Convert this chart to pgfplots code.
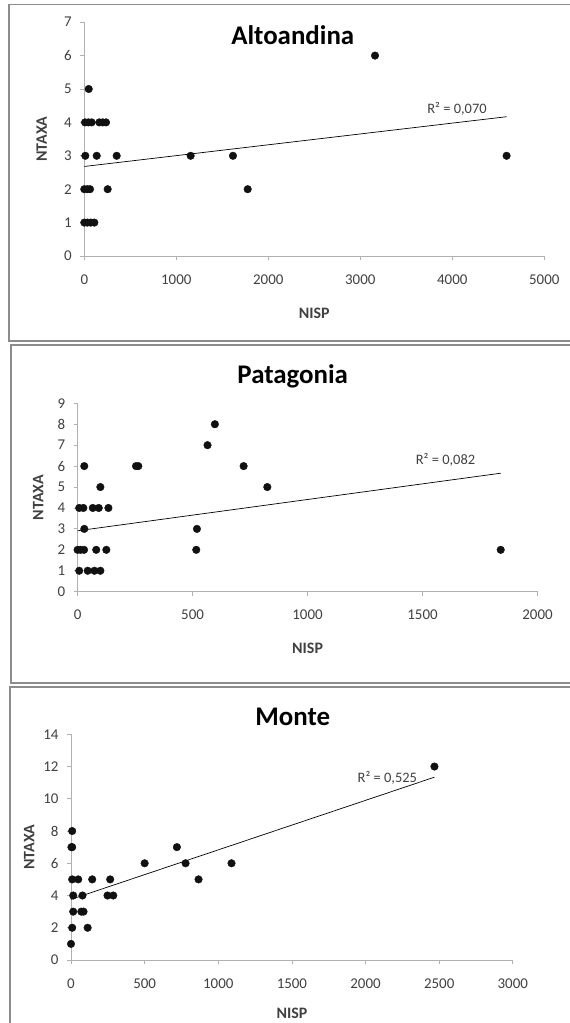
\documentclass[border=0pt]{standalone}
\usepackage{pgfplots}
\pgfplotsset{compat=1.18}
\usepackage{fontspec}
\setmainfont{Carlito}
\definecolor{axgray}{HTML}{B0B0B0}
\definecolor{frgray}{HTML}{8C8C8C}
\definecolor{txgray}{HTML}{404040}
\definecolor{dot}{HTML}{111111}
\pgfplotsset{
  panel/.style={
    scale only axis, anchor=origin, clip=false,
    axis x line=bottom, axis y line=left,
    axis line style={-, draw=axgray, line width=0.8bp},
    tick align=outside, major tick length=4bp,
    tick style={draw=axgray, line width=0.8bp},
    /pgf/number format/assume math mode=true,
    /pgf/number format/set thousands separator={},
    ticklabel style={font=\fontsize{15}{17}\selectfont, text=txgray},
    xticklabel style={yshift=-11bp},
    yticklabel style={xshift=-5bp},
    ymin=0,
  },
  dots/.style={only marks, mark=*, mark size=3.8bp, mark options={fill=dot, draw=dot}},
  trend/.style={no marks, draw=black, line width=0.7bp},
}
\begin{document}
\begin{tikzpicture}
\path (0bp,0bp) rectangle (570bp,1023bp);
\draw[overlay, frgray, line width=1.3bp] (9bp,682bp) rectangle (576bp,1018.5bp);
\draw[overlay, frgray, line width=1.3bp] (11bp,340bp) rectangle (576bp,678bp);
\draw[overlay, frgray, line width=1.3bp] (10bp,-5bp) rectangle (576bp,336bp);

% Altoandina
\begin{axis}[panel, at={(84.3bp,767bp)}, width=460bp, height=233.8bp,
  xmin=0, xmax=5000, ymax=7, xtick={0,1000,...,5000}, ytick={0,1,...,7}]
\addplot[trend] coordinates {(0,2.68) (4590,4.17)};
\addplot[dots] coordinates {
(3160,6) (4590,3) (48,5)
(8,4) (44,4) (80,4) (163,4) (200,4) (236,4)
(11,3) (135,3) (352,3) (1156,3) (1616,3)
(0,2) (33,2) (62,2) (254,2) (1776,2)
(0,1) (33,1) (70,1) (109,1)};
\node[font=\fontsize{14.5}{16}\selectfont, text=txgray] at (axis cs:4051,4.40) {R² = 0,070};
\end{axis}
\node[font=\fontsize{27}{30}\selectfont\bfseries] at (292.7bp,988bp) {Altoandina};
\node[font=\fontsize{16}{19}\selectfont\bfseries, text=txgray] at (314.3bp,710bp) {NISP};
\node[font=\fontsize{16}{19}\selectfont\bfseries, text=txgray, rotate=90] at (41.8bp,884bp) {NTAXA};

% Patagonia
\begin{axis}[panel, at={(77.6bp,431.3bp)}, width=459.9bp, height=188.4bp,
  xmin=0, xmax=2000, ymax=9, xtick={0,500,...,2000}, ytick={0,1,...,9}]
\addplot[trend] coordinates {(0,2.91) (1840,5.66)};
\addplot[dots] coordinates {
(597,8) (565,7) (29,6) (254,6) (264,6) (722,6) (99,5) (825,5)
(7,4) (25,4) (66,4) (92,4) (134,4)
(29,3) (519,3)
(0,2) (13,2) (28,2) (81,2) (125,2) (516,2) (1840,2)
(7,1) (44,1) (73,1) (99,1)};
\node[font=\fontsize{14.5}{16}\selectfont, text=txgray] at (axis cs:1600,6.29) {R² = 0,082};
\end{axis}
\node[font=\fontsize{27}{30}\selectfont\bfseries] at (292.7bp,647bp) {Patagonia};
\node[font=\fontsize{16}{19}\selectfont\bfseries, text=txgray] at (307.6bp,375bp) {NISP};
\node[font=\fontsize{16}{19}\selectfont\bfseries, text=txgray, rotate=90] at (38.2bp,525.5bp) {NTAXA};

% Monte
\begin{axis}[panel, at={(71.0bp,63bp)}, width=441.8bp, height=225.7bp,
  xmin=0, xmax=3000, ymax=14, xtick={0,500,...,3000}, ytick={0,2,...,14}]
\addplot[trend] coordinates {(0,3.76) (2468,11.34)};
\addplot[dots] coordinates {
(8,8) (3,7) (8,7) (719,7) (500,6) (778,6) (1090,6)
(8,5) (49,5) (144,5) (266,5) (866,5)
(15,4) (78,4) (248,4) (287,4)
(15,3) (70,3) (85,3)
(8,2) (113,2)
(0,1) (2468,12)};
\node[font=\fontsize{14.5}{16}\selectfont, text=txgray] at (axis cs:2148,11.27) {R² = 0,525};
\end{axis}
\node[font=\fontsize{27}{30}\selectfont\bfseries] at (292.7bp,305.7bp) {Monte};
\node[font=\fontsize{16}{19}\selectfont\bfseries, text=txgray] at (291.9bp,10bp) {NISP};
\node[font=\fontsize{16}{19}\selectfont\bfseries, text=txgray, rotate=90] at (29.1bp,176bp) {NTAXA};
\end{tikzpicture}
\end{document}
